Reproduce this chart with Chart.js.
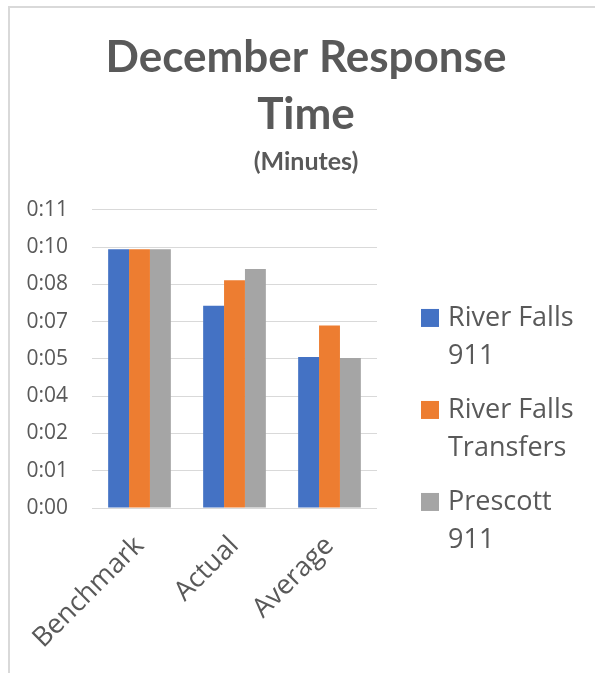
<!DOCTYPE html>
<html><head><meta charset="utf-8">
<script src="https://cdn.jsdelivr.net/npm/chart.js@4/dist/chart.umd.min.js"></script>
<style>
html,body{margin:0;padding:0;background:#fff;}
#wrap{position:relative;width:595px;height:673px;overflow:hidden;}
#frame{position:absolute;left:8px;top:6px;width:700px;height:800px;border-left:2px solid #d9d9d9;border-top:2px solid #d9d9d9;box-sizing:border-box;pointer-events:none;}
canvas{position:absolute;left:0;top:0;}
</style></head><body>
<div id="wrap"><canvas id="c" width="595" height="673"></canvas><div id="frame"></div></div>
<script>
const categories = ['Benchmark', 'Actual', 'Average'];
const seriesNames = [['River Falls', '911'], ['River Falls', 'Transfers'], ['Prescott', '911']];
const riverFalls911 = [10.0, 7.82, 5.84];
const riverFallsTransfers = [10.0, 8.80, 7.05];
const prescott911 = [10.0, 9.24, 5.80];
const yTickLabels = ['0:00', '0:01', '0:02', '0:04', '0:05', '0:07', '0:08', '0:10', '0:11'];
const yStep = 1.44;   // one tick = 0.001 day = 1.44 minutes
const yMax = 11.52;

const colors = ['#4472C4', '#ED7D31', '#A5A5A5'];
const textColor = '#595959';
const seriesValues = [riverFalls911, riverFallsTransfers, prescott911];

const sideLegend = {
  id: 'sideLegend',
  afterDraw(chart) {
    const ctx = chart.ctx, a = chart.chartArea;
    ctx.save();
    ctx.font = '27px "Open Sans"';
    ctx.textBaseline = 'middle';
    ctx.textAlign = 'left';
    const x0 = a.right + 44;
    let y = a.top + 108;
    chart.data.datasets.forEach((ds, i) => {
      ctx.fillStyle = ds.backgroundColor;
      ctx.fillRect(x0, y - 9, 18, 18);
      ctx.fillStyle = textColor;
      seriesNames[i].forEach((line, j) => ctx.fillText(line, x0 + 27, y + j * 38));
      y += 92;
    });
    ctx.restore();
  }
};

new Chart(document.getElementById('c'), {
  type: 'bar',
  data: {
    labels: categories,
    datasets: seriesValues.map((vals, i) => ({
      label: seriesNames[i].join(' '),
      data: vals,
      backgroundColor: colors[i],
      borderWidth: 0,
      categoryPercentage: 0.66,
      barPercentage: 1.0
    }))
  },
  options: {
    responsive: false,
    animation: false,
    devicePixelRatio: 1,
    layout: { padding: { top: 29.5, right: 0, left: 17, bottom: 0 } },
    plugins: {
      legend: { display: false },
      tooltip: { enabled: false },
      title: {
        display: true,
        text: ['December Response', 'Time'],
        color: textColor,
        font: { family: 'Lato', size: 44, weight: 'bold', lineHeight: 1.295 },
        padding: { top: 0, bottom: 3.5 }
      },
      subtitle: {
        display: true,
        text: '(Minutes)',
        color: textColor,
        font: { family: 'Lato', size: 25, weight: 'bold', lineHeight: 1.2 },
        padding: { top: 0, bottom: 33 }
      }
    },
    scales: {
      x: {
        grid: { display: false },
        border: { display: false },
        ticks: {
          color: textColor,
          font: { family: 'Open Sans', size: 27 },
          minRotation: 45, maxRotation: 45,
          padding: 14
        },
        afterFit(s) { s.height = 165; }
      },
      y: {
        min: 0, max: yMax,
        border: { display: false },
        grid: { color: '#D9D9D9', lineWidth: 1, drawTicks: false },
        ticks: {
          stepSize: yStep,
          color: textColor,
          font: { family: 'Open Sans', size: 21 },
          padding: 24,
          callback: (v, i) => yTickLabels[i]
        },
        afterFit(s) { s.width = 75; }
      },
      yR: {
        type: 'linear',
        position: 'right',
        display: true,
        grid: { display: false },
        border: { display: false },
        ticks: { display: false },
        afterFit(s) { s.width = 218; }
      }
    }
  },
  plugins: [sideLegend]
});
</script>
</body></html>
